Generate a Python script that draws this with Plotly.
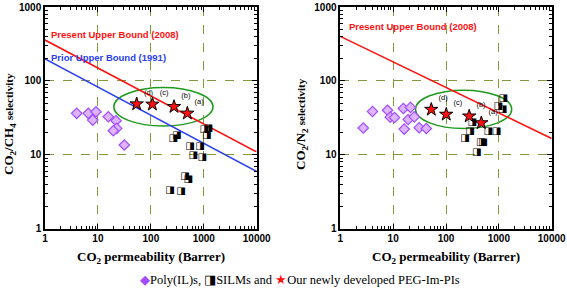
import plotly.graph_objects as go

# ---------------- data ----------------
# CO2/CH4 panel
ch4_pil_x = [3.97, 6.58, 9.2, 7.97, 15.7, 22.0, 22.6, 19.5, 31.5]
ch4_pil_y = [36.3, 36.3, 38.1, 29.4, 32.6, 28.8, 22.7, 21.1, 13.5]
ch4_silm_x = [1024, 1218, 1137, 308, 266, 550, 849, 634, 938, 442, 510, 230, 371]
ch4_silm_y = [22.0, 22.6, 18.0, 18.4, 16.6, 13.1, 13.1, 9.66, 9.08, 5.02, 4.67, 3.31, 3.21]
ch4_pi_x = [489, 274, 107, 54]
ch4_pi_y = [36.3, 44.6, 48.1, 48.5]
pi_labels = ["(a)", "(b)", "(c)", "(d)"]
ch4_ub2008_x = [1, 10000]
ch4_ub2008_y = [357, 10.9]
ch4_ub1991_x = [1, 10000]
ch4_ub1991_y = [197.8, 5.93]
ch4_ellipse_x = [19.95, 1495]
ch4_ellipse_y = [24.4, 81.1]

# CO2/N2 panel
n2_pil_x = [2.72, 4.07, 7.82, 8.83, 10.6, 15.6, 21.3, 19.3, 25.1, 16.2, 31.1, 42.4]
n2_pil_y = [23.0, 38.5, 40.0, 32.2, 31.8, 42.2, 43.7, 30.0, 32.5, 22.2, 23.2, 22.6]
n2_silm_x = [1213, 977, 1173, 313, 284, 229, 455, 500, 381, 631, 903]
n2_silm_y = [57.7, 45.6, 41.0, 27.1, 20.3, 16.5, 14.5, 14.5, 10.6, 20.3, 20.6]
n2_pi_x = [466, 275, 101, 52.7]
n2_pi_y = [26.9, 33.2, 35.1, 40.9]
n2_ub2008_x = [1, 10000]
n2_ub2008_y = [400, 16.5]
n2_ellipse_x = [26.5, 1750]
n2_ellipse_y = [22.6, 74.8]

x_ticks = [1, 10, 100, 1000, 10000]
y_ticks = [1, 10, 100, 1000]

# ---------------- styling ----------------
RED = "#ff1010"
BLUE = "#2a3ff0"
GREEN = "#1f9a1f"
PURPLE = "#a24cff"
PURPLE_FILL = "#dcb4ff"
GRID = "#7f9a3c"

fig = go.Figure()

def add_panel(xa, ya, pil_x, pil_y, silm_x, silm_y, pi_x, pi_y, bounds):
    for bx, by, col in bounds:
        fig.add_trace(go.Scatter(x=bx, y=by, mode="lines", xaxis=xa, yaxis=ya,
                                 line=dict(color=col, width=1.6), showlegend=False,
                                 hoverinfo="skip"))
    fig.add_trace(go.Scatter(x=pil_x, y=pil_y, mode="markers", xaxis=xa, yaxis=ya,
                             marker=dict(symbol="diamond", size=8, color=PURPLE_FILL,
                                         line=dict(color=PURPLE, width=1.2)),
                             showlegend=False))
    fig.add_trace(go.Scatter(x=silm_x, y=silm_y, mode="text", xaxis=xa, yaxis=ya,
                             text=["\u25E8"] * len(silm_x),
                             textfont=dict(family="DejaVu Sans", size=10, color="black"),
                             showlegend=False))
    fig.add_trace(go.Scatter(x=pi_x, y=pi_y, mode="markers+text", xaxis=xa, yaxis=ya,
                             text=pi_labels, textposition="top right",
                             textfont=dict(family="Arial", size=7.5, color="black"),
                             marker=dict(symbol="star", size=10, color=RED,
                                         line=dict(color="black", width=1)),
                             showlegend=False))

add_panel("x", "y", ch4_pil_x, ch4_pil_y, ch4_silm_x, ch4_silm_y, ch4_pi_x, ch4_pi_y,
          [(ch4_ub2008_x, ch4_ub2008_y, RED), (ch4_ub1991_x, ch4_ub1991_y, BLUE)])
add_panel("x2", "y2", n2_pil_x, n2_pil_y, n2_silm_x, n2_silm_y, n2_pi_x, n2_pi_y,
          [(n2_ub2008_x, n2_ub2008_y, RED)])

W, H = 567, 289
def px(x): return x / W
def py(y): return 1 - y / H

axis_common = dict(
    type="log", showline=True, linecolor="black", linewidth=1.5, mirror="ticks",
    ticks="inside", ticklen=5, tickwidth=1, tickcolor="black",
    showgrid=True, gridcolor=GRID, griddash="dash", gridwidth=1,
    zeroline=False, automargin=False,
    tickfont=dict(family="Arial", size=10, color="black", weight="bold"),
    minor=dict(ticks="inside", ticklen=3, tickwidth=1, tickcolor="black", dtick="D1",
               showgrid=False),
)

ydom = [py(228.5), py(7)]
fig.update_layout(
    width=W, height=H, margin=dict(l=0, r=0, t=0, b=0, pad=0, autoexpand=False),
    paper_bgcolor="white", plot_bgcolor="white", showlegend=False,
    xaxis=dict(axis_common, domain=[px(45), px(256.7)], range=[0, 4],
               tickvals=x_ticks, ticktext=[str(v) for v in x_ticks], anchor="y"),
    yaxis=dict(axis_common, domain=ydom, range=[0, 3],
               tickvals=y_ticks, ticktext=[str(v) for v in y_ticks], anchor="x"),
    xaxis2=dict(axis_common, domain=[px(340.3), px(551.7)], range=[0, 4],
                tickvals=x_ticks, ticktext=[str(v) for v in x_ticks], anchor="y2"),
    yaxis2=dict(axis_common, domain=ydom, range=[0, 3],
                tickvals=y_ticks, ticktext=[str(v) for v in y_ticks], anchor="x2"),
)

# ellipses (data coordinates)
fig.add_shape(type="circle", xref="x", yref="y",
              x0=ch4_ellipse_x[0], x1=ch4_ellipse_x[1],
              y0=ch4_ellipse_y[0], y1=ch4_ellipse_y[1],
              line=dict(color=GREEN, width=1.5), layer="below")
fig.add_shape(type="circle", xref="x2", yref="y2",
              x0=n2_ellipse_x[0], x1=n2_ellipse_x[1],
              y0=n2_ellipse_y[0], y1=n2_ellipse_y[1],
              line=dict(color=GREEN, width=1.5), layer="below")

serif = "Liberation Serif, Times New Roman, serif"
ann = []
ann.append(dict(x=px(49), y=py(35), xref="paper", yref="paper", xanchor="left", yanchor="middle",
                text="<b>Present Upper Bound (2008)</b>", showarrow=False,
                font=dict(family="Arial", size=9.5, color=RED)))
ann.append(dict(x=px(49), y=py(57), xref="paper", yref="paper", xanchor="left", yanchor="middle",
                text="<b>Prior Upper Bound (1991)</b>", showarrow=False,
                font=dict(family="Arial", size=9.5, color=BLUE)))
ann.append(dict(x=px(346.7), y=py(27), xref="paper", yref="paper", xanchor="left", yanchor="middle",
                text="<b>Present Upper Bound (2008)</b>", showarrow=False,
                font=dict(family="Arial", size=9.5, color=RED)))
ann.append(dict(x=px(151), y=py(257), xref="paper", yref="paper", xanchor="center", yanchor="middle",
                text="<b>CO<sub>2</sub> permeability (Barrer)</b>", showarrow=False,
                font=dict(family=serif, size=13, color="black")))
ann.append(dict(x=px(446), y=py(257), xref="paper", yref="paper", xanchor="center", yanchor="middle",
                text="<b>CO<sub>2</sub> permeability (Barrer)</b>", showarrow=False,
                font=dict(family=serif, size=13, color="black")))
ann.append(dict(x=px(9), y=py(124), xref="paper", yref="paper", xanchor="center", yanchor="middle",
                text="<b>CO<sub>2</sub>/CH<sub>4</sub> <span style='font-size:11px'>selectivity</span></b>",
                textangle=-90, showarrow=False,
                font=dict(family=serif, size=13, color="black")))
ann.append(dict(x=px(301), y=py(124), xref="paper", yref="paper", xanchor="center", yanchor="middle",
                text="<b>CO<sub>2</sub>/N<sub>2</sub> <span style='font-size:11px'>selectivity</span></b>",
                textangle=-90, showarrow=False,
                font=dict(family=serif, size=13, color="black")))
ann.append(dict(x=px(300), y=py(280), xref="paper", yref="paper", xanchor="center", yanchor="middle",
                text=('<span style="color:%s">\u25C6</span>Poly(IL)s, '
                      '<span style="color:black">\u25E8</span>SILMs and '
                      '<span style="color:%s">\u2605</span>Our newly developed PEG-Im-PIs') % (PURPLE, RED),
                showarrow=False, font=dict(family=serif, size=12.5, color="black")))
fig.update_layout(annotations=ann)

fig.write_html("out.html", config={"displayModeBar": False},
               post_script="document.body.style.margin='0px';document.body.style.overflow='hidden';")
